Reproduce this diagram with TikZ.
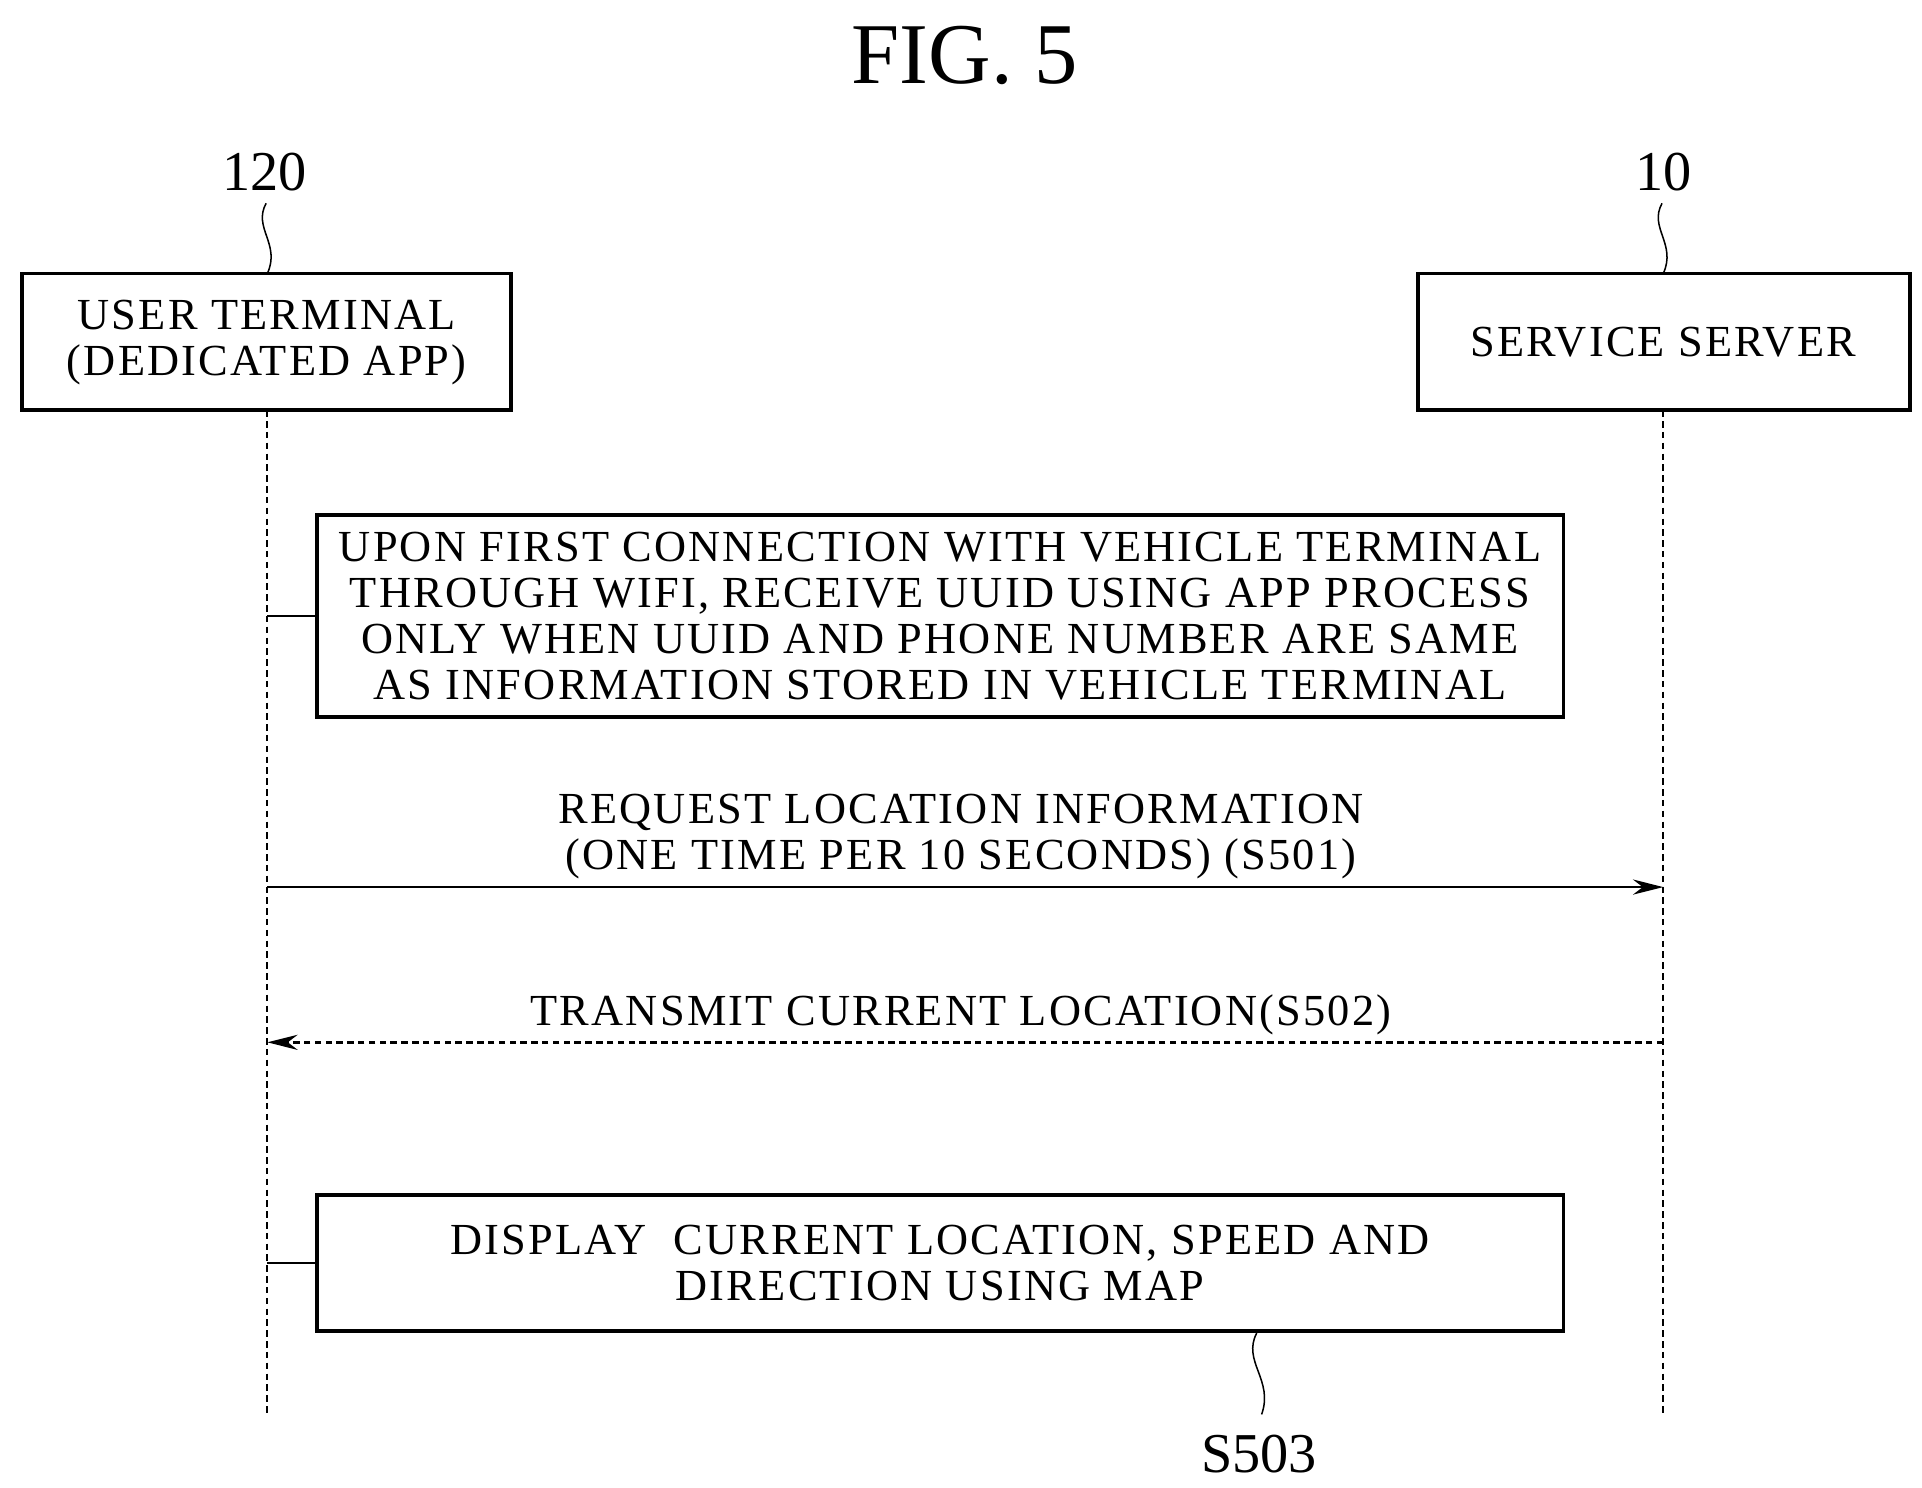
\documentclass[tikz,border=0pt]{standalone}
\usepackage{fontspec}
\setmainfont{Liberation Serif}
\usetikzlibrary{arrows.meta}
\begin{document}
\begin{tikzpicture}[x={(0.02cm,0)},y={(0,-0.02cm)},
  box/.style={draw,line width=1.8pt,inner sep=0pt},
  txt/.style={align=center,font=\fontsize{20.5}{21.3}\selectfont\addfontfeature{LetterSpace=5},inner sep=0pt},
  life/.style={densely dashed,line width=0.8pt},
  squig/.style={line width=0.7pt},
  arr/.style={line width=1.1pt,-{Stealth[length=14pt,width=7pt]}}]
\useasboundingbox (0,0) rectangle (1560,1207);
\node[font=\fontsize{40}{42}\selectfont] (title) at (783,45) {FIG. 5};
\node[font=\fontsize{26}{28}\selectfont] (n120) at (215,140) {120};
\node[font=\fontsize{26}{28}\selectfont] (n10) at (1350,140) {10};
\draw[box] (18,222) rectangle (415,333);
\node[txt] (ut) at (216.5,278) {USER TERMINAL\\(DEDICATED APP)};
\draw[box] (1151,222) rectangle (1550,333);
\node[txt] (ss) at (1350,278) {SERVICE SERVER};
\coordinate (a1) at (216,165); \coordinate (a2) at (217,222);
\draw[squig] (a1) .. controls (205,185) and (228,198) .. (a2);
\coordinate (b1) at (1349,165); \coordinate (b2) at (1350,222);
\draw[squig] (b1) .. controls (1338,185) and (1361,198) .. (b2);
\coordinate (l1t) at (217,333); \coordinate (l1b) at (217,1147);
\coordinate (l2t) at (1350,333); \coordinate (l2b) at (1350,1147);
\draw[life] (l1t) -- (l1b);
\draw[life] (l2t) -- (l2b);
\draw[box] (257,418) rectangle (1269,582);
\node[txt] (s1) at (763,500) {UPON FIRST CONNECTION WITH VEHICLE TERMINAL\\THROUGH WIFI, RECEIVE UUID USING APP PROCESS\\ONLY WHEN UUID AND PHONE NUMBER ARE SAME\\AS INFORMATION STORED IN VEHICLE TERMINAL};
\coordinate (c1) at (217,500); \coordinate (c2) at (257,500);
\draw[line width=1.2pt] (c1) -- (c2);
\coordinate (r1) at (217,720); \coordinate (r2) at (1350,720);
\draw[arr] (r1) -- (r2);
\node[txt] (lr) at (780,679) {REQUEST LOCATION INFORMATION\\(ONE TIME PER 10 SECONDS) (S501)};
\coordinate (t1) at (1350,846); \coordinate (t2) at (217,846);
\draw[arr,densely dashed] (t1) -- (t2);
\node[txt] (lt) at (780,824) {TRANSMIT CURRENT LOCATION(S502)};
\draw[box] (257,970) rectangle (1269,1080);
\node[txt] (s3) at (763,1025) {DISPLAY\ \ CURRENT LOCATION, SPEED AND\\DIRECTION USING MAP};
\coordinate (d1) at (217,1025); \coordinate (d2) at (257,1025);
\draw[line width=1.2pt] (d1) -- (d2);
\coordinate (e1) at (1020,1082); \coordinate (e2) at (1024,1148);
\draw[squig] (e1) .. controls (1008,1105) and (1034,1120) .. (e2);
\node[font=\fontsize{26}{28}\selectfont] (n503) at (1022,1180) {S503};
\end{tikzpicture}
\end{document}
